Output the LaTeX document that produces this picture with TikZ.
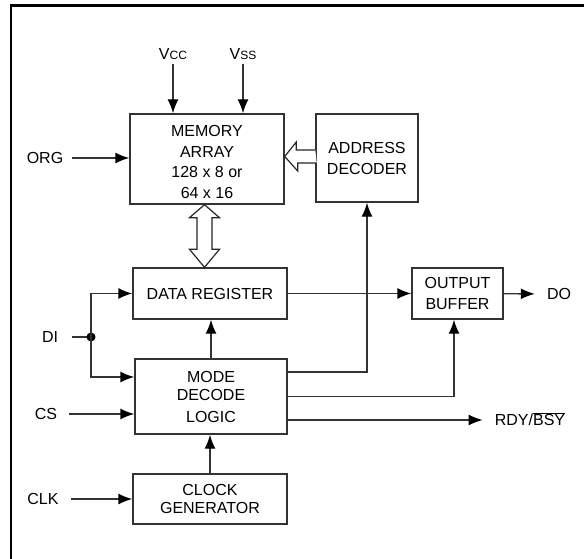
\documentclass[tikz,border=0pt]{standalone}
\usepackage{fontspec}
\setmainfont{Liberation Sans}
\usetikzlibrary{arrows.meta,calc,positioning}
\tikzset{%
  font=\fontsize{16}{20.5}\selectfont,>={Latex[length=14pt,width=11pt,color=black]},
  block/.style = {rectangle, draw=black!80, line width=1.4pt, align=center, inner sep=0pt},
  sig/.style   = {inner sep=12pt},
  line/.style  = {draw=black!80, line width=1.4pt, ->},
  wire/.style  = {draw=black!80, line width=1.4pt},
  hollow/.style = {draw=black!85, line width=1.2pt, fill=white, line join=miter}
}

\begin{document}
\begin{tikzpicture}[x=1pt,y=-1pt]
\useasboundingbox (0,0) rectangle (584,559);
\clip (0,0) rectangle (584,559);
\draw[line width=2.5pt] (11,600) -- (11,5.5) -- (600,5.5);

\node[block,minimum width=154pt,minimum height=90pt] (mem) at (207,159) {\rule{0pt}{17pt}MEMORY\\ARRAY\\128 x 8 or\\64 x 16};
\node[block,minimum width=102pt,minimum height=88pt] (addr) at (367,158) {ADDRESS\\[0.5pt]DECODER};
\node[block,minimum width=154pt,minimum height=51pt] (reg) at (210,293.5) {DATA REGISTER};
\node[block,minimum width=152pt,minimum height=75pt] (mode) at (211,396.5) {MODE\\[-2.5pt]DECODE\\[1.5pt]LOGIC};
\node[block,minimum width=154pt,minimum height=50pt] (clk) at (210,499) {CLOCK\\[-2pt]GENERATOR};
\node[block,minimum width=91pt,minimum height=51pt] (obuf) at (457.5,293.5) {OUTPUT\\[0.5pt]BUFFER};

\node[sig,inner sep=4pt] (vcc) at (173,54) {V{\fontsize{12}{14}\selectfont CC}};
\node[sig,inner sep=4pt] (vss) at (243,54) {V{\fontsize{12}{14}\selectfont SS}};
\node[sig,inner sep=9pt] (org) at (45,158) {ORG};
\node[sig,inner sep=14pt] (di) at (50,337) {DI};
\node[sig] (cs) at (46,414) {CS};
\node[sig] (clkin) at (43,499) {CLK};
\node[sig] (do) at (559,294) {DO};
\node[sig] (rdy) at (530,420) {RDY/\smash{$\overline{\mbox{BSY}}$}};
\coordinate (dj) at (91,337);

\draw[line] (vcc) -- (vcc|-mem.north);
\draw[line] (vss) -- (vss|-mem.north);
\draw[line] (org) -- (org-|mem.west);
\draw[wire] (di) -- (dj);
\fill (dj) circle (4.5pt);
\draw[line] (dj) |- (reg.west);
\draw[line] (dj) |- ([yshift=19.5pt]mode.west);
\draw[line] (cs) -- (cs-|mode.west);
\draw[line] (clkin) -- (clkin-|clk.west);
\draw[line] (clk.north) -- (clk.north|-mode.south);
\draw[line] (mode.north) -- (mode.north|-reg.south);
\draw[line] (reg) -- (obuf);
\draw[line] (obuf) -- (do);
\draw[line] ([yshift=24.5pt]mode.east) -| (addr.south);
\draw[line] (mode.east) -| ([xshift=-3.5pt]obuf.south);
\draw[line] ([yshift=-23.5pt]mode.east) -- (rdy.west);

% wide bus arrows
\coordinate (h1) at ($(addr.west)+(0,-1.5)$);
\draw[hollow] ($(h1)+(0,-6.5)$) -- ++(-19,0) -- ++(0,-8) -- (h1-|mem.east) -- ++(13,14.5) -- ++(0,-8) -- ++(19,0);
\coordinate (v1) at ($(mem.south)+(-2.5,0)$);
\draw[hollow] (v1) -- ++(15,13) -- ++(-7.5,0) -- ($(v1|-reg.north)+(7.5,-18)$) -- ++(7.5,0) -- (v1|-reg.north)
  -- ++(-15,-18) -- ++(7.5,0) -- ($(v1)+(-7.5,13)$) -- ++(-7.5,0) -- cycle;
\end{tikzpicture}
\end{document}
